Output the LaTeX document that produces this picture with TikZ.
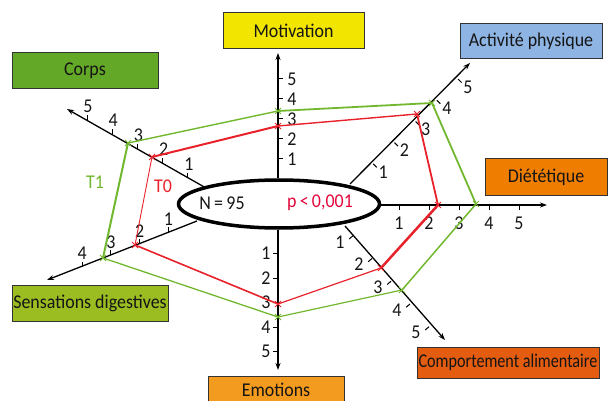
\documentclass[tikz,border=0pt]{standalone}
\usepackage{fontspec}
\setmainfont{Carlito}[FakeStretch=0.92]
\usetikzlibrary{arrows.meta,shapes.geometric,shapes.misc,calc}
\definecolor{cMot}{HTML}{F2E500}
\definecolor{cCorps}{HTML}{63A827}
\definecolor{cAct}{HTML}{8DB4E2}
\definecolor{cDiet}{HTML}{EF7D00}
\definecolor{cSens}{HTML}{9CBD22}
\definecolor{cEmo}{HTML}{F39B1E}
\definecolor{cComp}{HTML}{E45C10}
\definecolor{tOne}{HTML}{72B82E}
\definecolor{tZero}{HTML}{E8222A}
\definecolor{pRed}{HTML}{E2063B}
\definecolor{boxline}{HTML}{333333}
\definecolor{txt}{HTML}{151515}
\begin{document}
\begin{tikzpicture}[x=1pt,y=-1pt,
  font=\fontsize{19.5}{21}\selectfont,
  catbox/.style={draw=boxline, line width=1pt, minimum height=36pt, inner sep=0pt, text=txt},
  axisline/.style={line width=1.3pt, -{Stealth[length=7pt,width=5pt]}},
  vaxis/.style={axisline, line width=1.8pt},
  tickmark/.style={line width=1pt},
  ticklabel/.style={inner sep=0pt, text=txt},
  mkg/.style={cross out, draw=tOne, line width=0.9pt, minimum size=5pt, inner sep=0pt},
  mkr/.style={cross out, draw=tZero, line width=0.9pt, minimum size=5pt, inner sep=0pt},
  gline/.style={draw=tOne},
  rline/.style={draw=tZero},
]
\useasboundingbox (0,0) rectangle (616,401);

% category boxes
\node[catbox, fill=cMot, minimum width=141pt] (bMot) at (293.5,31) {Motivation};
\node[catbox, fill=cCorps, minimum width=146pt] (bCorps) at (85,71) {Corps};
\node[catbox, fill=cAct, minimum width=142pt, minimum height=35pt] (bAct) at (531,41.5) {Activité physique};
\node[catbox, fill=cDiet, minimum width=122pt] (bDiet) at (546,177) {Diététique};
\node[catbox, fill=cSens, minimum width=156pt] (bSens) at (90,303) {Sensations digestives};
\node[catbox, fill=cEmo, minimum width=136pt, minimum height=28pt] (bEmo) at (276,390) {Emotions};
\node[catbox, fill=cComp, minimum width=182pt, minimum height=31pt] (bComp) at (508,362.5) {\scalebox{0.9}[1]{Comportement alimentaire}};

% central ellipse
\node[draw, ellipse, line width=3.5pt, minimum width=201pt, minimum height=48pt, inner sep=0pt] (ell) at (279,204) {};

% axis end points
\coordinate (motS) at (278,178);  \coordinate (motE) at (278,53);
\coordinate (emoS) at (278,230);  \coordinate (emoE) at (278,370);
\coordinate (dietS) at (380,205); \coordinate (dietE) at (547,205);
\coordinate (actS) at (350,184);  \coordinate (actE) at (470,63);
\coordinate (compS) at (345,226); \coordinate (compE) at (445,340);
\coordinate (corpsS) at (206,188); \coordinate (corpsE) at (67,109);
\coordinate (sensS) at (197,221); \coordinate (sensE) at (47,280);

\draw[vaxis] (motS) -- (motE);
\draw[vaxis] (emoS) -- (emoE);
\draw[axisline] (dietS) -- (dietE);
\draw[axisline] (actS) -- (actE);
\draw[axisline] (compS) -- (compE);
\draw[axisline] (corpsS) -- (corpsE);
\draw[axisline] (sensS) -- (sensE);

% ticks and labels
\foreach \v in {1,...,5} {
  \coordinate (mt\v) at ($(278,179)+\v*(0,-20)$);
  \draw[tickmark] (mt\v) -- ++(5,0);
  \node[ticklabel] (mtl\v) at ($(mt\v)+(14,0)$) {\v};
  \coordinate (et\v) at ($(278,229)+\v*(0,24.5)$);
  \draw[tickmark] (et\v) -- ++(-5,0);
  \node[ticklabel] (etl\v) at ($(et\v)+(-12,0)$) {\v};
  \coordinate (dt\v) at ($(369,205)+\v*(30,0)$);
  \draw[tickmark] (dt\v) -- ++(0,5);
  \node[ticklabel] (dtl\v) at ($(dt\v)+(0,18)$) {\v};
  \coordinate (at\v) at ($(352,185)+\v*(21.2,-21.2)$);
  \draw[tickmark] (at\v) -- ++(3.5,3.5);
  \node[ticklabel] (atl\v) at ($(at\v)+(10,8)$) {\v};
  \coordinate (ct\v) at ($(334,213)+\v*(19,22.75)$);
  \draw[tickmark] (ct\v) -- ++(-3.8,3.2);
  \node[ticklabel] (ctl\v) at ($(ct\v)+(-13,6)$) {\v};
  \coordinate (kt\v) at ($(213,192.5)+\v*(-25.2,-14.5)$);
  \draw[tickmark] (kt\v) -- ++(0,-5);
  \node[ticklabel] (ktl\v) at ($(kt\v)+(1,-14)$) {\v};
}
\foreach \v in {1,...,4} {
  \coordinate (st\v) at ($(197,221)+\v*(-28.7,11.4)$);
  \draw[tickmark] (st\v) -- ++(0,-5);
  \node[ticklabel] (stl\v) at ($(st\v)+(0,-13)$) {\v};
}

% data points T1
\node[mkg] (g1) at (128,143) {};
\node[mkg] (g2) at (278,111) {};
\node[mkg] (g3) at (432,103) {};
\node[mkg] (g4) at (476,204) {};
\node[mkg] (g5) at (402,290) {};
\node[mkg] (g6) at (278,317) {};
\node[mkg] (g7) at (103,258) {};
% data points T0
\node[mkr] (r1) at (152,157) {};
\node[mkr] (r2) at (278,126) {};
\node[mkr] (r3) at (417,114) {};
\node[mkr] (r4) at (438,205) {};
\node[mkr] (r5) at (381,268) {};
\node[mkr] (r6) at (278,304) {};
\node[mkr] (r7) at (135,245) {};

\draw[gline, line width=1.4pt] (g1.center) -- (g2.center);
\draw[gline, line width=1.8pt] (g2.center) -- (g3.center);
\draw[gline, line width=1.8pt] (g3.center) -- (g4.center);
\draw[gline, line width=1.5pt] (g4.center) -- (g5.center);
\draw[gline, line width=1.2pt] (g5.center) -- (g6.center);
\draw[gline, line width=1.3pt] (g6.center) -- (g7.center);
\draw[gline, line width=2.0pt] (g7.center) -- (g1.center);

\draw[rline, line width=2.0pt] (r1.center) -- (r2.center);
\draw[rline, line width=1.4pt] (r2.center) -- (r3.center);
\draw[rline, line width=1.8pt] (r3.center) -- (r4.center);
\draw[rline, line width=2.5pt] (r4.center) -- (r5.center);
\draw[rline, line width=1.2pt] (r5.center) -- (r6.center);
\draw[rline, line width=1.6pt] (r6.center) -- (r7.center);
\draw[rline, line width=0.9pt] (r7.center) -- (r1.center);

% texts
\node[text=tOne, inner sep=0pt] (lT1) at (95,182) {T1};
\node[text=tZero, inner sep=0pt] (lT0) at (163,186) {T0};
\node[text=txt, inner sep=0pt] (lN) at (222,203) {N\,=\,95};
\node[text=pRed, inner sep=0pt] (lp) at (320,203) {p\,<\,0,001};
\end{tikzpicture}
\end{document}
